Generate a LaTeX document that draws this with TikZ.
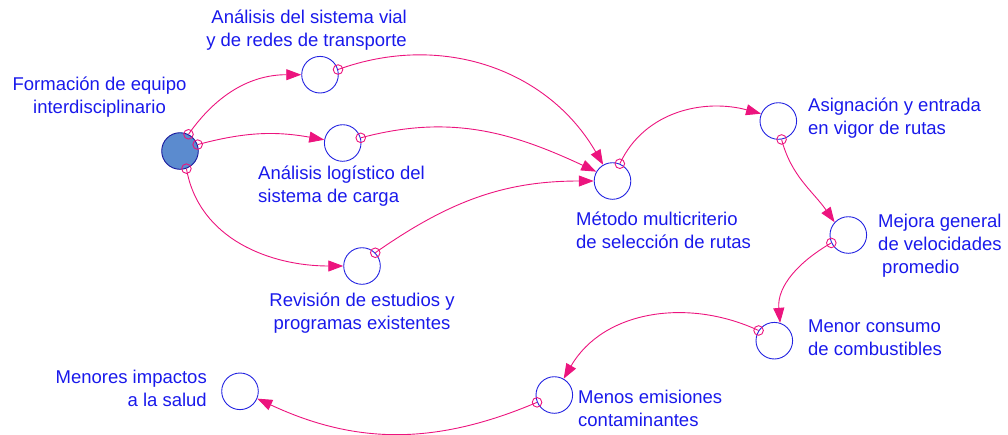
\documentclass[tikz,border=0pt]{standalone}
\usepackage{fontspec}
\setmainfont{Liberation Sans}
\usetikzlibrary{arrows.meta}
\definecolor{edgec}{RGB}{236,20,126}
\definecolor{circc}{RGB}{35,35,225}
\definecolor{textc}{RGB}{25,25,235}
\definecolor{fillc}{RGB}{91,139,207}
\begin{document}
\begin{tikzpicture}[x=1pt,y=1pt,
  var/.style={circle, draw=circc, line width=0.9pt, minimum size=36.6pt, inner sep=0pt},
  lab/.style={text=textc, font=\fontsize{18.5}{23}\selectfont, inner sep=0pt},
  link/.style={draw=edgec, line width=0.9pt, -{Triangle[length=15pt,width=11pt]}},
  tailmark/.style={draw=edgec, line width=0.9pt}
]
\useasboundingbox (0,0) rectangle (1008,-434);

\node[var, fill=fillc, draw=circc!70!black] (A) at (180,-151) {};
\node[var] (B) at (320,-74.7) {};
\node[var] (C) at (342.7,-143) {};
\node[var] (D) at (362,-266) {};
\node[var] (E) at (612.5,-181) {};
\node[var] (F) at (778.3,-121) {};
\node[var] (G) at (848.3,-235) {};
\node[var] (H) at (774.3,-340.7) {};
\node[var] (I) at (554.3,-395) {};
\node[var] (J) at (240,-391.3) {};

\node[lab, align=center] (tA) at (99.5,-97.5) {Formación de equipo\\interdisciplinario};
\node[lab, align=right, anchor=east] (tB) at (407,-30) {Análisis del sistema vial\\y de redes de transporte};
\node[lab, align=left, anchor=west] (tC) at (258,-186.5) {Análisis logístico del\\sistema de carga};
\node[lab, align=center] (tD) at (362,-313.5) {Revisión de estudios y\\programas existentes};
\node[lab, align=left, anchor=west] (tE) at (576,-230.5) {Método multicriterio\\de selección de rutas};
\node[lab, align=left, anchor=west] (tF) at (808,-118.5) {Asignación y entrada\\en vigor de rutas};
\node[lab, align=left, anchor=west] (tG) at (878,-245.5) {Mejora general\\de velocidades\\\hspace*{4pt}promedio};
\node[lab, align=left, anchor=west] (tH) at (808,-337.5) {Menor consumo\\de combustibles};
\node[lab, align=left, anchor=west] (tI) at (578,-408.5) {Menos emisiones\\contaminantes};
\node[lab, align=right, anchor=east] (tJ) at (207,-388.5) {Menores impactos\\a la salud};

\draw[link] (A.63) to[out=55,in=180] (B.west);
\draw[link] (A.20) to[out=15,in=170] (C.170);
\draw[link] (A.-70) to[out=-80,in=180] (D.west);
\draw[link] (B.16) to[out=20,in=120] (E.120);
\draw[link] (C.16) to[out=15,in=155] (E.150);
\draw[link] (D.45) to[out=35,in=180] (E.west);
\draw[link] (E.67) to[out=65,in=165] (F.157);
\draw[link] (F.-80) to[out=-75,in=125] (G.137);
\draw[link] (G.205) to[out=210,in=95] (H.72);
\draw[link] (H.147) to[out=155,in=60] (I.60);
\draw[link] (I.203) to[out=203,in=-25] (J.-23);

\foreach \p in {A.63,A.20,A.-70,B.16,C.16,D.45,E.67,F.-80,G.205,H.147,I.203}
  \draw[tailmark] (\p) circle (4.8);
\end{tikzpicture}
\end{document}
